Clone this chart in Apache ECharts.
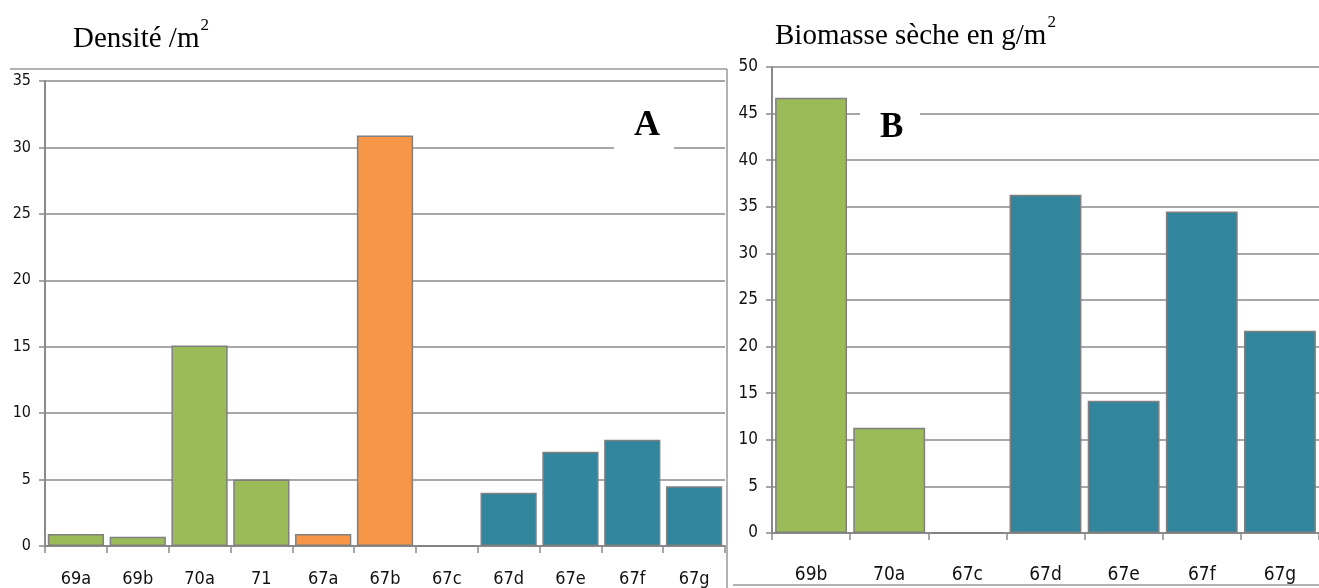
<!DOCTYPE html>
<html>
<head>
<meta charset="utf-8">
<script src="https://cdn.jsdelivr.net/npm/echarts@6/dist/echarts.min.js"></script>
<style>
html,body{margin:0;padding:0;background:#fff;}
#c{width:1319px;height:588px;}
</style>
</head>
<body>
<div id="c"></div>
<script>
// ---- Data ----
const catsA = ['69a','69b','70a','71','67a','67b','67c','67d','67e','67f','67g'];
const valsA = [0.9, 0.7, 15.1, 5.0, 0.9, 30.9, 0, 4.0, 7.1, 8.0, 4.5];
const groupsA = ['green','green','green','green','orange','orange','teal','teal','teal','teal','teal'];

const catsB = ['69b','70a','67c','67d','67e','67f','67g'];
const valsB = [46.7, 11.3, 0, 36.3, 14.2, 34.5, 21.7];
const groupsB = ['green','green','teal','teal','teal','teal','teal'];

const ticksA = [0,5,10,15,20,25,30,35];
const ticksB = [0,5,10,15,20,25,30,35,40,45,50];

const titleA = 'Densité /m';
const titleB = 'Biomasse sèche en g/m';
const sup = '2';

// ---- Styles ----
const colors = {green:'#9BBB59', orange:'#F79646', teal:'#31859C'};
const gridCol = '#8a8a8a';
const labelFont = '"Liberation Sans Narrow", "DejaVu Sans Condensed", "Open Sans", sans-serif';
const serif = '"Liberation Serif", "DejaVu Serif", serif';
const titleFont = '29px ' + serif;

function textWidth(t, font){
  const ctx = document.createElement('canvas').getContext('2d');
  ctx.font = font;
  return ctx.measureText(t).width;
}

function barData(vals, groups){
  return vals.map((v,i)=>({value:v, itemStyle:{color:colors[groups[i]]}}));
}

const chart = echarts.init(document.getElementById('c'), null, {renderer:'canvas'});

function xAxis(cats, idx, margin, fs){
  return {
    type:'category', gridIndex:idx, data:cats,
    axisLine:{show:true, lineStyle:{color:gridCol, width:2}},
    axisTick:{show:true, length:7, lineStyle:{color:gridCol, width:1.5}},
    axisLabel:{color:'#111', fontFamily:labelFont, fontSize:fs, margin:margin, interval:0}
  };
}
function yAxis(ticks, idx, fs){
  return {
    type:'value', gridIndex:idx, min:ticks[0], max:ticks[ticks.length-1], interval:ticks[1]-ticks[0],
    axisLine:{show:true, lineStyle:{color:gridCol, width:2}},
    axisTick:{show:true, length:6, lineStyle:{color:gridCol, width:1.5}},
    splitLine:{show:true, lineStyle:{color:gridCol, width:1.5}},
    axisLabel:{color:'#111', fontFamily:labelFont, fontSize:fs, margin:14}
  };
}

const wA = textWidth(titleA, titleFont);
const wB = textWidth(titleB, titleFont);

const option = {
  animation:false,
  backgroundColor:'#fff',
  grid:[
    {left:45, top:81, width:680, height:465, containLabel:false},
    {left:772, top:67, width:553, height:466, containLabel:false}
  ],
  xAxis:[ xAxis(catsA,0,24,18), xAxis(catsB,1,33,19) ],
  yAxis:[ yAxis(ticksA,0,16), yAxis(ticksB,1,17) ],
  series:[
    {type:'bar', xAxisIndex:0, yAxisIndex:0, data:barData(valsA,groupsA), barCategoryGap:'9%',
     itemStyle:{borderColor:'#808080', borderWidth:1.5}},
    {type:'bar', xAxisIndex:1, yAxisIndex:1, data:barData(valsB,groupsB), barCategoryGap:'8%',
     itemStyle:{borderColor:'#808080', borderWidth:1.5}}
  ],
  graphic:[
    // frame lines
    {type:'line', shape:{x1:10,y1:69,x2:727,y2:69}, style:{stroke:'#999', lineWidth:1.5}, z:50},
    {type:'line', shape:{x1:727,y1:69,x2:727,y2:588}, style:{stroke:'#999', lineWidth:1.5}, z:50},
    {type:'line', shape:{x1:733,y1:585,x2:1319,y2:585}, style:{stroke:'#999', lineWidth:1.5}, z:50},
    // titles
    {type:'text', left:73, top:25, z:60, style:{text:titleA, font:titleFont, fill:'#000'}},
    {type:'text', left:73 + wA + 1, top:17, z:60, style:{text:sup, font:'17px '+serif, fill:'#000'}},
    {type:'text', left:775, top:22, z:60, style:{text:titleB, font:titleFont, fill:'#000'}},
    {type:'text', left:775 + wB + 1, top:14, z:60, style:{text:sup, font:'17px '+serif, fill:'#000'}},
    // A / B labels with white boxes
    {type:'rect', shape:{x:614, y:104, width:60, height:48}, style:{fill:'#fff'}, z:70},
    {type:'text', left:634, top:108, z:71, style:{text:'A', font:'bold 36px '+serif, fill:'#000'}},
    {type:'rect', shape:{x:860, y:100, width:60, height:48}, style:{fill:'#fff'}, z:70},
    {type:'text', left:880, top:110, z:71, style:{text:'B', font:'bold 35px '+serif, fill:'#000'}}
  ]
};
chart.setOption(option);
</script>
</body>
</html>
